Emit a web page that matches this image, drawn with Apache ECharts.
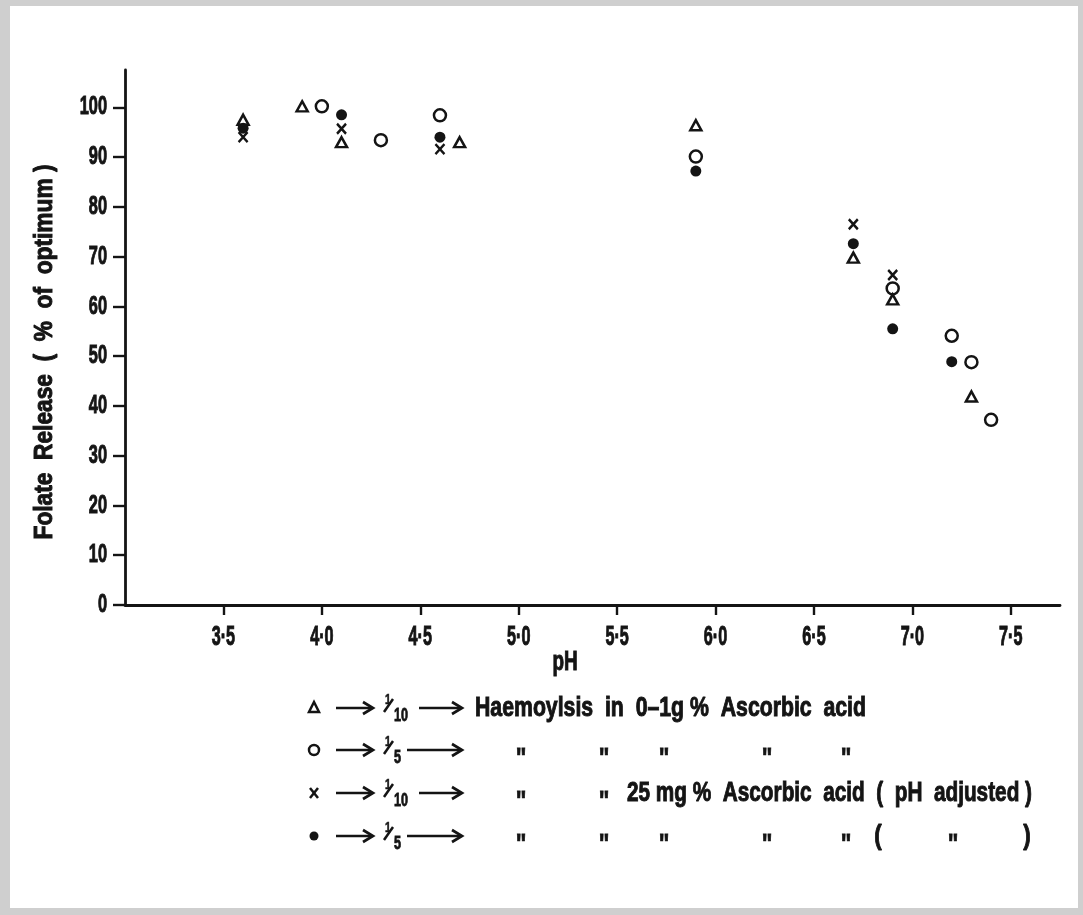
<!DOCTYPE html>
<html>
<head>
<meta charset="utf-8">
<script src="https://cdn.jsdelivr.net/npm/echarts@6/dist/echarts.min.js"></script>
<style>
  html, body { margin: 0; padding: 0; background: #cfcfcf; }
  #chart { width: 1083px; height: 915px; }
</style>
</head>
<body>
<div id="chart"></div>
<script>
// Folate release against pH for four haemolysate preparations
const xTicks = [3.5, 4.0, 4.5, 5.0, 5.5, 6.0, 6.5, 7.0, 7.5];
const yTicks = [0, 10, 20, 30, 40, 50, 60, 70, 80, 90, 100];

// 1/10 haemolysis in 0.1 g % ascorbic acid (triangles)
const phTri = [3.6, 3.9, 4.1, 4.7, 5.9, 6.7, 6.9, 7.3];
const relTri = [97.5, 100.2, 93.0, 93.0, 96.4, 69.8, 61.4, 41.9];
// 1/5 haemolysis in 0.1 g % ascorbic acid (open circles)
const phCirc = [4.0, 4.3, 4.6, 5.9, 6.9, 7.2, 7.3, 7.4];
const relCirc = [100.2, 93.4, 98.4, 90.1, 63.6, 54.1, 48.8, 37.2];
// 1/10 haemolysis in 25 mg % ascorbic acid, pH adjusted (crosses)
const phCross = [3.6, 4.1, 4.6, 6.7, 6.9];
const relCross = [94.0, 95.7, 91.6, 76.5, 66.3];
// 1/5 haemolysis in 25 mg % ascorbic acid, pH adjusted (filled circles)
const phDot = [3.6, 4.1, 4.6, 5.9, 6.7, 6.9, 7.2];
const relDot = [95.8, 98.5, 94.0, 87.2, 72.6, 55.5, 48.9];

const FAMILY = "'Liberation Sans', Arial, sans-serif";
const INK = '#141414';

function pairs(xs, ys) { return xs.map((x, i) => [x, ys[i]]); }
function fontOf(size) { return 'bold ' + size + 'px ' + FAMILY; }

// condensed lettering: normal bold face squeezed horizontally
const measureCtx = document.createElement('canvas').getContext('2d');
function textWidth(s, size) { measureCtx.font = fontOf(size); return measureCtx.measureText(s).width; }

const g = [];
g.push({ type: 'rect', shape: { x: 10, y: 6, width: 1068, height: 902 }, style: { fill: '#ffffff' }, z: -10 });

function label(x, y, s, size, sx, align, weight) {
  g.push({
    type: 'text', x: x, y: y, scaleX: sx,
    style: {
      text: s, font: fontOf(size), fill: INK, stroke: INK, lineWidth: weight == null ? 1 : weight,
      textAlign: align || 'left', textVerticalAlign: 'middle'
    }
  });
}
// text stretched between two x positions
function span(x1, x2, y, s, size) {
  label(x1, y, s, size, (x2 - x1) / textWidth(s, size), 'left');
}
function arrow(x1, x2, y) {
  g.push({ type: 'line', shape: { x1: x1, y1: y, x2: x2 - 2, y2: y }, style: { stroke: INK, lineWidth: 2.5 } });
  g.push({ type: 'polyline', shape: { points: [[x2 - 10, y - 6], [x2, y], [x2 - 10, y + 6]] }, style: { stroke: INK, lineWidth: 2.7, fill: null, lineJoin: 'miter' } });
}
function frac(x, y, den) {
  label(x + 9, y - 8, '1', 14, 0.75, 'center', 0.6);
  g.push({ type: 'line', shape: { x1: x + 5, y1: y + 4, x2: x + 14, y2: y - 9 }, style: { stroke: INK, lineWidth: 2.5 } });
  label(x + 15, y + 8, den, 18, 0.7, 'left', 0.8);
}
function ditto(x, y) { label(x, y + 9, '"', 28, 0.8, 'center', 0.8); }

// legend rows
const rowY = [708, 750, 793, 836];
const symX = 314;
g.push({ type: 'polygon', shape: { points: [[symX, rowY[0] - 6], [symX - 5, rowY[0] + 4], [symX + 5, rowY[0] + 4]] }, style: { stroke: INK, lineWidth: 2.5, fill: null } });
g.push({ type: 'circle', shape: { cx: symX, cy: rowY[1], r: 5 }, style: { stroke: INK, lineWidth: 2.5, fill: null } });
g.push({ type: 'polyline', shape: { points: [[symX - 4, rowY[2] - 5], [symX + 4, rowY[2] + 5]] }, style: { stroke: INK, lineWidth: 2.5 } });
g.push({ type: 'polyline', shape: { points: [[symX + 4, rowY[2] - 5], [symX - 4, rowY[2] + 5]] }, style: { stroke: INK, lineWidth: 2.5 } });
g.push({ type: 'circle', shape: { cx: symX, cy: rowY[3], r: 4.5 }, style: { fill: INK } });

[0, 1, 2, 3].forEach(function (r) {
  const y = rowY[r];
  const den = (r === 0 || r === 2) ? '10' : '5';
  arrow(336, 373, y);
  frac(379, y, den);
  arrow(den === '10' ? 419 : 407, 462, y);
});

span(475, 866, rowY[0], 'Haemoylsis  in  0\u20131g %  Ascorbic  acid', 28);
[521, 604, 664, 767, 846].forEach(function (x) { ditto(x, rowY[1]); ditto(x, rowY[3]); });
ditto(521, rowY[2]); ditto(604, rowY[2]);
span(627, 1032, rowY[2], '25 mg %  Ascorbic  acid  (  pH  adjusted )', 28);
label(878, rowY[3], '(', 28, 0.8, 'center');
ditto(953, rowY[3]);
label(1027, rowY[3], ')', 28, 0.8, 'center');

// axis titles
label(565, 663, 'pH', 27, 0.7, 'center');
const yTitle = 'Folate  Release  (  %  of  optimum )';
g.push({
  type: 'text', x: 45, y: 352, rotation: Math.PI / 2, scaleX: 375 / textWidth(yTitle, 26),
  style: { text: yTitle, font: fontOf(26), fill: INK, stroke: INK, lineWidth: 1, textAlign: 'center', textVerticalAlign: 'middle' }
});

const chart = echarts.init(document.getElementById('chart'), null, { renderer: 'canvas' });
const markStroke = { color: 'rgba(0,0,0,0)', borderColor: INK, borderWidth: 2.5, opacity: 1 };

chart.setOption({
  backgroundColor: 'transparent',
  animation: false,
  grid: { left: 125, right: 23, top: 70, bottom: 310, containLabel: false },
  xAxis: {
    type: 'value', min: 3, max: 7.75, interval: 0.5,
    axisLine: { show: true, onZero: false, lineStyle: { color: INK, width: 2.8 } },
    axisTick: { show: true, inside: false, length: 10, customValues: xTicks, lineStyle: { color: INK, width: 2.4 } },
    axisLabel: { show: false },
    splitLine: { show: false }
  },
  yAxis: {
    type: 'value', min: 0, max: 107.5, interval: 10,
    axisLine: { show: true, onZero: false, lineStyle: { color: INK, width: 2.8 } },
    axisTick: { show: true, length: 12, customValues: yTicks, lineStyle: { color: INK, width: 2.4 } },
    axisLabel: { show: false },
    splitLine: { show: false }
  },
  series: [
    { name: 'tri', type: 'scatter', symbol: 'triangle', symbolSize: [11, 10], itemStyle: markStroke, data: pairs(phTri, relTri) },
    { name: 'circ', type: 'scatter', symbol: 'circle', symbolSize: 12, itemStyle: markStroke, data: pairs(phCirc, relCirc) },
    { name: 'cross', type: 'scatter', symbol: 'path://M0,0L10,11M10,0L0,11', symbolSize: [9, 10],
      itemStyle: markStroke, data: pairs(phCross, relCross) },
    { name: 'dot', type: 'scatter', symbol: 'circle', symbolSize: 11, itemStyle: { color: INK, opacity: 1 }, data: pairs(phDot, relDot) }
  ]
});

// tick labels in the same condensed lettering, placed through the axis scales
xTicks.forEach(function (v) {
  const px = chart.convertToPixel({ xAxisIndex: 0 }, v);
  label(px, 638, v.toFixed(1).replace('.', '\u00b7'), 27, 0.6, 'center');
});
yTicks.forEach(function (v) {
  const py = chart.convertToPixel({ yAxisIndex: 0 }, v);
  label(107, py, String(v), 26, 0.63, 'right');
});

chart.setOption({ graphic: { elements: g } });
</script>
</body>
</html>
